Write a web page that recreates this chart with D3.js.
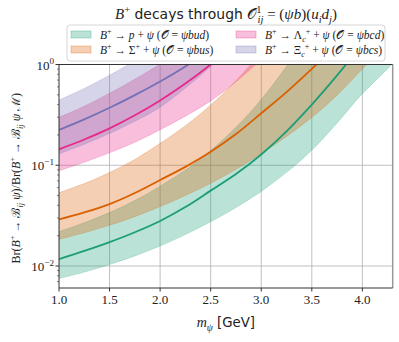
<!DOCTYPE html>
<html><head><meta charset="utf-8">
<script src="https://cdn.jsdelivr.net/npm/d3@7"></script>
<style>html,body{margin:0;padding:0;background:#fff;}svg{display:block;}</style>
</head><body>
<svg id="c" width="399" height="342"></svg>
<script>
// ---------- data ----------
const xTicks = [1.0, 1.5, 2.0, 2.5, 3.0, 3.5, 4.0];
const yTicks = [0.01, 0.1, 1];
const yTickExp = ["\u22122", "\u22121", "0"];

// B+ -> p + psi  (O = psi b u d)
const mP   = [1.0, 1.25, 1.5, 1.75, 2.0, 2.25, 2.5, 2.75, 3.0, 3.25, 3.5, 3.75, 4.0, 4.25, 4.5];
const pMid = [0.0117, 0.0141, 0.01726, 0.02163, 0.028, 0.03846, 0.056, 0.0818, 0.128, 0.2173, 0.40, 0.78, 1.58, 3.0, 5.5];
const pLo  = [0.0075, 0.0087, 0.01035, 0.0126, 0.0158, 0.0205, 0.0275, 0.038, 0.055, 0.085, 0.141, 0.263, 0.513, 0.91, 1.7];
const pHi  = [0.0219, 0.0269, 0.0339, 0.0447, 0.062, 0.0895, 0.14, 0.238, 0.45, 0.96, 2.25, 5, 10, 18, 30];

// B+ -> Sigma+ + psi  (O = psi b u s)
const mS   = [1.0, 1.25, 1.5, 1.75, 2.0, 2.25, 2.5, 2.75, 3.0, 3.25, 3.5, 3.75, 4.0, 4.25];
const sMid = [0.029, 0.034, 0.0412, 0.0531, 0.0714, 0.0964, 0.136, 0.204, 0.328, 0.532, 0.904, 1.58, 2.8, 4.8];
const sLo  = [0.0184, 0.0214, 0.0254, 0.0309, 0.0389, 0.0501, 0.0661, 0.0912, 0.1303, 0.1928, 0.2985, 0.4955, 0.9016, 1.6];
const sHi  = [0.0534, 0.0658, 0.0847, 0.1143, 0.165, 0.247, 0.396, 0.689, 1.32, 2.5, 4.5, 8, 14, 25];

// B+ -> Lambda_c+ + psi  (O = psi b c d)
const mL   = [1.0, 1.25, 1.5, 1.75, 2.0, 2.25, 2.5, 2.75, 3.0, 3.25];
const lMid = [0.144, 0.18, 0.232, 0.313, 0.44, 0.647, 1.0, 1.62, 2.8, 4.6];
const lLo  = [0.088, 0.107, 0.133, 0.169, 0.225, 0.307, 0.435, 0.673, 1.12, 1.9];
const lHi  = [0.299, 0.385, 0.518, 0.714, 1.01, 1.46, 2.2, 3.4, 5.5, 8.5];

// B+ -> Xi_c+ + psi  (O = psi b c s)
const mX   = [1.0, 1.25, 1.5, 1.75, 2.0, 2.25, 2.5, 2.75];
const xMid = [0.224, 0.285, 0.372, 0.497, 0.678, 0.957, 1.41, 2.1];
const xLo  = [0.13, 0.162, 0.207, 0.273, 0.377, 0.583, 0.955, 1.66];
const xHi  = [0.444, 0.579, 0.782, 1.09, 1.55, 2.2, 3.1, 4.4];

const colors = {p:"#1b9e77", s:"#d95f02", l:"#e7298a", x:"#7570b3"};

// ---------- layout ----------
const svg = d3.select("#c");
const L = 59, R = 392.7, T = 64.5, B = 288;
const x = d3.scaleLinear().domain([1.0, 4.3]).range([L, R]);
const y = d3.scaleLog().domain([0.00605, 1]).range([B, T]);

const SERIF = "'Liberation Serif', 'DejaVu Serif', serif";
const SANS = "'DejaVu Sans', sans-serif";

function rich(g, px, py, segs, size, anchor) {
  const t = g.append("text").attr("x", px).attr("y", py)
    .attr("font-size", size).attr("text-anchor", anchor || "start").attr("fill", "#222");
  let cur = 0;
  segs.forEach(s => {
    const shift = s.sup ? -0.42 * size : (s.sub ? 0.28 * size : 0);
    const ts = t.append("tspan").text(s.t)
      .attr("dy", shift - cur)
      .attr("font-family", s.f === "s" ? SANS : SERIF)
      .attr("font-style", s.i ? "italic" : "normal")
      .attr("font-size", (s.sup || s.sub) ? size * 0.7 : (s.k ? size * s.k : size));
    if (s.dx) ts.attr("dx", s.dx);
    cur = shift;
  });
  return t;
}

// clip
svg.append("defs").append("clipPath").attr("id", "clip")
  .append("rect").attr("x", L).attr("y", T).attr("width", R - L).attr("height", B - T);

// grid
const grid = svg.append("g").attr("stroke", "#b0b0b0").attr("stroke-width", 0.8);
xTicks.slice(1).forEach(v => grid.append("line").attr("x1", x(v)).attr("x2", x(v)).attr("y1", T).attr("y2", B));
yTicks.slice(0, 2).forEach(v => grid.append("line").attr("x1", L).attr("x2", R).attr("y1", y(v)).attr("y2", y(v)));

// bands and lines
const plot = svg.append("g").attr("clip-path", "url(#clip)");
const series = [
  {m: mP, mid: pMid, lo: pLo, hi: pHi, c: colors.p},
  {m: mS, mid: sMid, lo: sLo, hi: sHi, c: colors.s},
  {m: mL, mid: lMid, lo: lLo, hi: lHi, c: colors.l},
  {m: mX, mid: xMid, lo: xLo, hi: xHi, c: colors.x}
];
const curve = d3.curveCatmullRom.alpha(0.5);
const area = d3.area().x(d => x(d.m)).y0(d => y(d.lo)).y1(d => y(d.hi)).curve(curve);
const line = d3.line().x(d => x(d.m)).y(d => y(d.v)).curve(curve);
series.forEach(s => {
  const rows = s.m.map((m, i) => ({m, lo: s.lo[i], hi: s.hi[i]}));
  plot.append("path").attr("d", area(rows)).attr("fill", s.c).attr("fill-opacity", 0.3)
    .attr("stroke", s.c).attr("stroke-opacity", 0.25).attr("stroke-width", 0.8);
});
series.forEach(s => {
  const rows = s.m.map((m, i) => ({m, v: s.mid[i]}));
  plot.append("path").attr("d", line(rows)).attr("fill", "none").attr("stroke", s.c).attr("stroke-width", 1.8);
});

// spines
const sp = svg.append("g").attr("fill", "none").attr("stroke-width", 1);
sp.append("line").attr("x1", R).attr("x2", R).attr("y1", T).attr("y2", B).attr("stroke", "#999").attr("stroke-width", 1.5);
sp.append("path").attr("d", `M${R},${T}H${L}V${B}H${R}`).attr("stroke", "#333");

// x axis ticks
const ax = svg.append("g");
xTicks.forEach(v => {
  ax.append("line").attr("x1", x(v)).attr("x2", x(v)).attr("y1", B).attr("y2", B + 3.5).attr("stroke", "#333");
  ax.append("text").attr("x", x(v)).attr("y", B + 16).attr("text-anchor", "middle")
    .attr("font-family", SERIF).attr("font-size", 13).attr("fill", "#222").text(v.toFixed(1));
});
// y axis ticks
yTicks.forEach((v, i) => {
  ax.append("line").attr("x1", L - 3.5).attr("x2", L).attr("y1", y(v)).attr("y2", y(v)).attr("stroke", "#333");
  rich(ax, L - 5, y(v) + 5, [{t: "10"}, {t: yTickExp[i], sup: true}], 13, "end");
});
const minor = [];
[0.001, 0.01, 0.1].forEach(d => { for (let k = 2; k <= 9; k++) minor.push(d * k); });
minor.filter(v => v >= 0.00605 && v < 1).forEach(v => {
  ax.append("line").attr("x1", L - 2).attr("x2", L).attr("y1", y(v)).attr("y2", y(v)).attr("stroke", "#333").attr("stroke-width", 0.6);
});

// axis labels
rich(svg, (L + R) / 2, 327, [{t: "m", i: true}, {t: "\u03c8", i: true, sub: true}, {t: " [GeV]", f: "s", k: 0.95}], 14, "middle");
const yl = svg.append("g").attr("transform", `translate(20,${(T + B) / 2 + 2}) rotate(-90)`);
rich(yl, 0, 0, [
  {t: "Br("}, {t: "B", i: true}, {t: "+", sup: true}, {t: " \u2192 "}, {t: "\u212C"},
  {t: "ij", i: true, sub: true}, {t: " \u03c8", i: true}, {t: ")/Br("}, {t: "B", i: true}, {t: "+", sup: true},
  {t: " \u2192 "}, {t: "\u212C"}, {t: "ij", i: true, sub: true}, {t: " \u03c8 ", i: true}, {t: "\u2133"}, {t: ")"}
], 12, "middle");

// title
rich(svg, 226, 19, [
  {t: "B", i: true}, {t: "+", sup: true}, {t: " decays through ", f: "s", k: 0.93},
  {t: "\ud835\udcaa"}, {t: "1", sup: true}, {t: "ij", i: true, sub: true, dx: -4},
  {t: " = ("}, {t: "\u03c8b", i: true}, {t: ")("}, {t: "u", i: true}, {t: "i", i: true, sub: true},
  {t: "d", i: true}, {t: "j", i: true, sub: true}, {t: ")"}
], 15, "middle");

// legend
const lg = svg.append("g");
lg.append("rect").attr("x", 67).attr("y", 25).attr("width", 318).attr("height", 36).attr("rx", 3)
  .attr("fill", "#fff").attr("fill-opacity", 0.85).attr("stroke", "#ccc").attr("stroke-width", 0.8);
const legendItems = [
  {c: colors.p, col: 0, row: 0, segs: [{t: "B", i: true}, {t: "+", sup: true}, {t: " \u2192 "}, {t: "p", i: true}, {t: " + "}, {t: "\u03c8", i: true}, {t: " ("}, {t: "\ud835\udcaa"}, {t: " = "}, {t: "\u03c8bud", i: true}, {t: ")"}]},
  {c: colors.s, col: 0, row: 1, segs: [{t: "B", i: true}, {t: "+", sup: true}, {t: " \u2192 \u03a3"}, {t: "+", sup: true}, {t: " + "}, {t: "\u03c8", i: true}, {t: " ("}, {t: "\ud835\udcaa"}, {t: " = "}, {t: "\u03c8bus", i: true}, {t: ")"}]},
  {c: colors.l, col: 1, row: 0, segs: [{t: "B", i: true}, {t: "+", sup: true}, {t: " \u2192 \u039b"}, {t: "c", i: true, sub: true}, {t: "+", sup: true}, {t: " + "}, {t: "\u03c8", i: true}, {t: " ("}, {t: "\ud835\udcaa"}, {t: " = "}, {t: "\u03c8bcd", i: true}, {t: ")"}]},
  {c: colors.x, col: 1, row: 1, segs: [{t: "B", i: true}, {t: "+", sup: true}, {t: " \u2192 \u039e"}, {t: "c", i: true, sub: true}, {t: "+", sup: true}, {t: " + "}, {t: "\u03c8", i: true}, {t: " ("}, {t: "\ud835\udcaa"}, {t: " = "}, {t: "\u03c8bcs", i: true}, {t: ")"}]}
];
legendItems.forEach(it => {
  const px = it.col ? 236 : 71, py = it.row ? 46 : 31;
  lg.append("rect").attr("x", px).attr("y", py).attr("width", 20).attr("height", 7)
    .attr("fill", it.c).attr("fill-opacity", 0.3).attr("stroke", it.c).attr("stroke-opacity", 0.3);
  rich(lg, px + 29, py + 7.5, it.segs, 11.5, "start");
});
</script>
</body></html>
